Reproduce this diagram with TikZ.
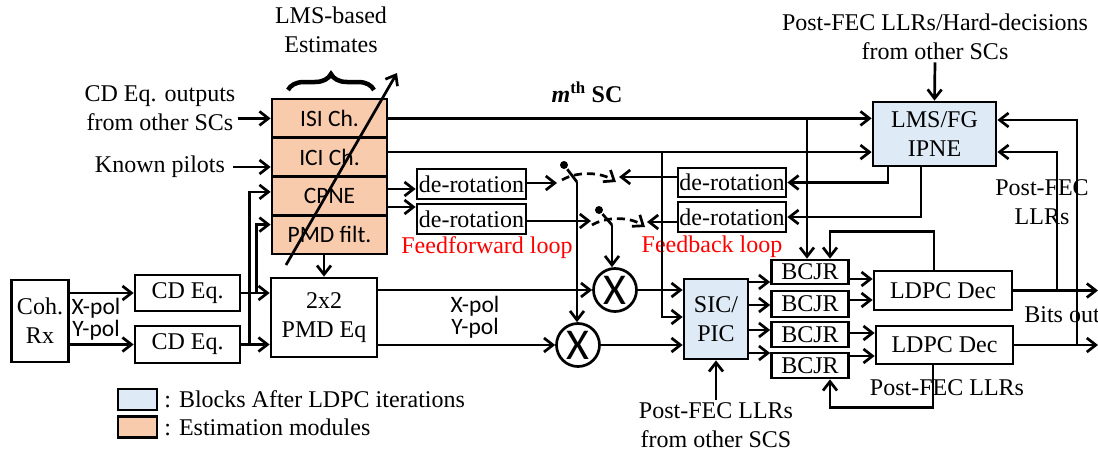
\documentclass[tikz,border=0pt]{standalone}
\usepackage{fontspec}
\setmainfont{Liberation Serif}
\newfontfamily\calibri{Carlito}
\usetikzlibrary{arrows.meta,decorations.pathreplacing}
\definecolor{estim}{HTML}{F8CBAD}
\definecolor{after}{HTML}{DEEBF7}
\begin{document}
\begin{tikzpicture}[x=1pt,y=-1pt,line width=2.7pt,>={Straight Barb[length=9pt,width=14pt]},
 font=\fontsize{24}{29}\selectfont,
 blk/.style={draw,inner sep=0pt,align=center},
 sans/.style={font=\calibri\fontsize{23.5}{28}\selectfont},
 est/.style={blk,sans,fill=estim,minimum width=115pt,minimum height=38.7pt},
 mult/.style={draw,circle,minimum size=43pt,inner sep=0pt,font=\calibri\fontsize{44}{44}\selectfont},
 swdot/.style={circle,fill,inner sep=0pt,minimum size=8pt},
 txt/.style={align=center,inner sep=1pt},
 redtxt/.style={text=red},
 swing/.style={dashed,dash pattern=on 8pt off 5pt}]
\useasboundingbox (0,0) rectangle (1098,455);
\node[blk,minimum width=57pt,minimum height=82pt] (coh) at (40,321) {Coh.\\Rx};
\node[blk,minimum width=105pt,minimum height=36pt] (cdx) at (187.5,293) {CD Eq.};
\node[blk,minimum width=105pt,minimum height=37pt] (cdy) at (187.5,344.5) {CD Eq.};
\node[blk,minimum width=106pt,minimum height=79pt] (pmd) at (324,317.5) {2x2\\PMD Eq};
\node[est] (isi) at (329.5,118.4) {ISI Ch.};
\node[est] (ici) at (329.5,157.1) {ICI Ch.};
\node[est] (cpne) at (329.5,195.9) {CPNE};
\node[est] (pmdf) at (329.5,234.6) {PMD filt.};
\node[blk,minimum width=109pt,minimum height=30pt] (derot1) at (471.5,184) {de-rotation};
\node[blk,minimum width=109pt,minimum height=30pt] (derot2) at (471.5,219) {de-rotation};
\node[blk,minimum width=108pt,minimum height=29pt] (derot3) at (732,182.5) {de-rotation};
\node[blk,minimum width=108pt,minimum height=30pt] (derot4) at (732,217) {de-rotation};
\node[blk,fill=after,minimum width=123pt,minimum height=64pt] (lms) at (934.5,134) {LMS/FG\\IPNE};
\node[mult] (multx) at (615,290) {X};
\node[mult] (multy) at (578,345) {X};
\node[blk,fill=after,minimum width=64pt,minimum height=80pt] (sic) at (716,319) {SIC/\\PIC};
\node[blk,minimum width=77pt,minimum height=24pt] (bcjr1) at (810,272) {BCJR};
\node[blk,minimum width=77pt,minimum height=26pt] (bcjr2) at (810,304) {BCJR};
\node[blk,minimum width=77pt,minimum height=25pt] (bcjr3) at (810,334.5) {BCJR};
\node[blk,minimum width=77pt,minimum height=25pt] (bcjr4) at (810,365.5) {BCJR};
\node[blk,minimum width=138pt,minimum height=39pt] (ldpc1) at (943,290.5) {LDPC Dec};
\node[blk,minimum width=137pt,minimum height=38pt] (ldpc2) at (944.5,345) {LDPC Dec};
\node[txt] (lmsb) at (331,30) {LMS-based\\Estimates};
\node[txt] (cdout) at (160,108) {CD Eq. outputs\\from other SCs};
\node[txt] (pilots) at (160,167) {Known pilots};
\node[txt] (msc) at (587,92) {\textbf{\textit{m}\textsuperscript{th} SC}};
\node[txt] (pfec) at (935,37) {Post-FEC LLRs/Hard-decisions\\from other SCs};
\node[txt] (pllr) at (1042,202) {Post-FEC\\LLRs};
\node[txt,redtxt] (ffl) at (487,248) {Feedforward loop};
\node[txt,redtxt] (fbl) at (712,247) {Feedback loop};
\node[txt,sans] (xpol1) at (96,308) {X-pol};
\node[txt,sans] (ypol1) at (96,330) {Y-pol};
\node[txt,sans] (xpol2) at (475,306) {X-pol};
\node[txt,sans] (ypol2) at (475,328) {Y-pol};
\node[txt,anchor=west] (bits) at (1022,315) {Bits out};
\node[txt] (pfbot) at (947,388) {Post-FEC LLRs};
\node[txt] (sicin) at (716,425) {Post-FEC LLRs\\from other SCS};
\node[blk,fill=after,minimum width=39pt,minimum height=21pt] (leg1) at (137.5,399.5) {};
\node[blk,fill=estim,minimum width=39pt,minimum height=21pt] (leg2) at (137.5,427) {};
\node[txt,anchor=west] (leg1t) at (162,399) {: Blocks After LDPC iterations};
\node[txt,anchor=west] (leg2t) at (162,427) {: Estimation modules};
\node[swdot] (sw1) at (564,165) {};
\node[swdot] (sw2) at (599,210) {};
\coordinate (sw1b) at (577,182);
\coordinate (sw2b) at (612,225);
\coordinate (sw1l) at (557,183);
\coordinate (sw2l) at (591,221);
\coordinate (sw1r) at (619,177);
\coordinate (sw2r) at (647,222);
\coordinate (out1) at (1098,290.5);
\coordinate (out2) at (1098,345);
\coordinate (diagA) at (286,265);
\coordinate (diagB) at (397,73);
\draw[->] (coh.east |- cdx) -- (cdx.west);
\draw[->] (coh.east |- cdy) -- (cdy.west);
\draw[->] (cdx.east) -- (pmd.west |- cdx);
\draw[->] (cdy.east) -- (pmd.west |- cdy);
\draw[->] (cdy.east) ++(8,0) |- ([yshift=4pt]cpne.west);
\draw[->] (cdx.east) ++(15,0) |- ([yshift=10pt]pmdf.west);
\draw[->] (cdout.east |- isi) -- (isi.west);
\draw[->] ([xshift=6pt]pilots.east) -- (pilots.east -| ici.west);
\draw[->] (pmdf.south -| pmd) -- (pmd.north);
\draw[->] (isi.east) -- (isi.east -| lms.west);
\draw[->] ([yshift=5pt]ici.east) -- ([yshift=5pt]ici.east -| lms.west);
\draw[->] (isi.east -| 807,0) -- (807,0 |- bcjr1.north);
\draw[->] ([yshift=5pt]ici.east -| 662,0) |- ([yshift=2pt]sic.west);
\draw[->] (cpne.east |- 0,189) -- (derot1.west |- 0,189);
\draw[->] (cpne.east |- 0,207) -- (derot2.west |- 0,207);
\draw[->] (pfec.south) -- (lms.north);
\draw[->] ([xshift=-46.5pt]lms.south) |- (derot3.east);
\draw[->] ([xshift=-13.5pt]lms.south) |- (derot4.east);
\draw[->] (derot1.east |- sw1l) -- (sw1l);
\draw[->] (derot2.east |- sw2l) -- (sw2l);
\draw[->] (derot3.west |- sw1r) -- (sw1r);
\draw[->] (derot4.west |- sw2r) -- (sw2r);
\draw (sw1) -- (sw1b);
\draw (sw2) -- (sw2b);
\draw[swing,->] (562,180) .. controls (576,171.5) and (600,171.5) .. (616,182);
\draw[swing,->] (592,225) .. controls (606,216.5) and (630,216.5) .. (645,227);
\draw[->] (sw1b) -- (sw1b |- multy.north);
\draw[->] (sw2b) -- (sw2b |- multx.north);
\draw[->] (pmd.east |- multx) -- (multx.west);
\draw[->] (pmd.east |- multy) -- (multy.west);
\draw[->] (multx.east) -- (sic.west |- multx);
\draw[->] (multy.east) -- (sic.west |- multy);
\draw[->] (sicin.north) -- (sic.south);
\foreach \i/\yy in {1/282,2/305,3/330,4/353}
  \draw[->] (sic.east |- 0,\yy) -- (bcjr\i.west |- 0,\yy);
\foreach \i/\j/\yy in {1/1/279,2/1/300,3/2/333,4/2/356}
  \draw[->] (bcjr\i.east |- 0,\yy) -- (ldpc\j.west |- 0,\yy);
\draw[->] ([xshift=-9pt]ldpc1.north) -- ++(0,-38) -| ([xshift=20pt]bcjr1.north);
\draw[->] ([xshift=-11.5pt]ldpc2.south) -- ++(0,42) -| ([xshift=20pt]bcjr4.south);
\draw[->] (ldpc1.east) -- (out1);
\draw[->] (ldpc2.east) -- (out2);
\draw[->] (ldpc1.east -| 1057,0) |- ([yshift=-18pt]lms.east);
\draw[->] (ldpc2.east -| 1077,0) |- ([yshift=14pt]lms.east);
\draw[->] (diagA) -- (diagB);
\draw[decorate,decoration={brace,amplitude=16pt},line width=4.5pt] (288,90) -- (374,90);
\end{tikzpicture}
\end{document}
